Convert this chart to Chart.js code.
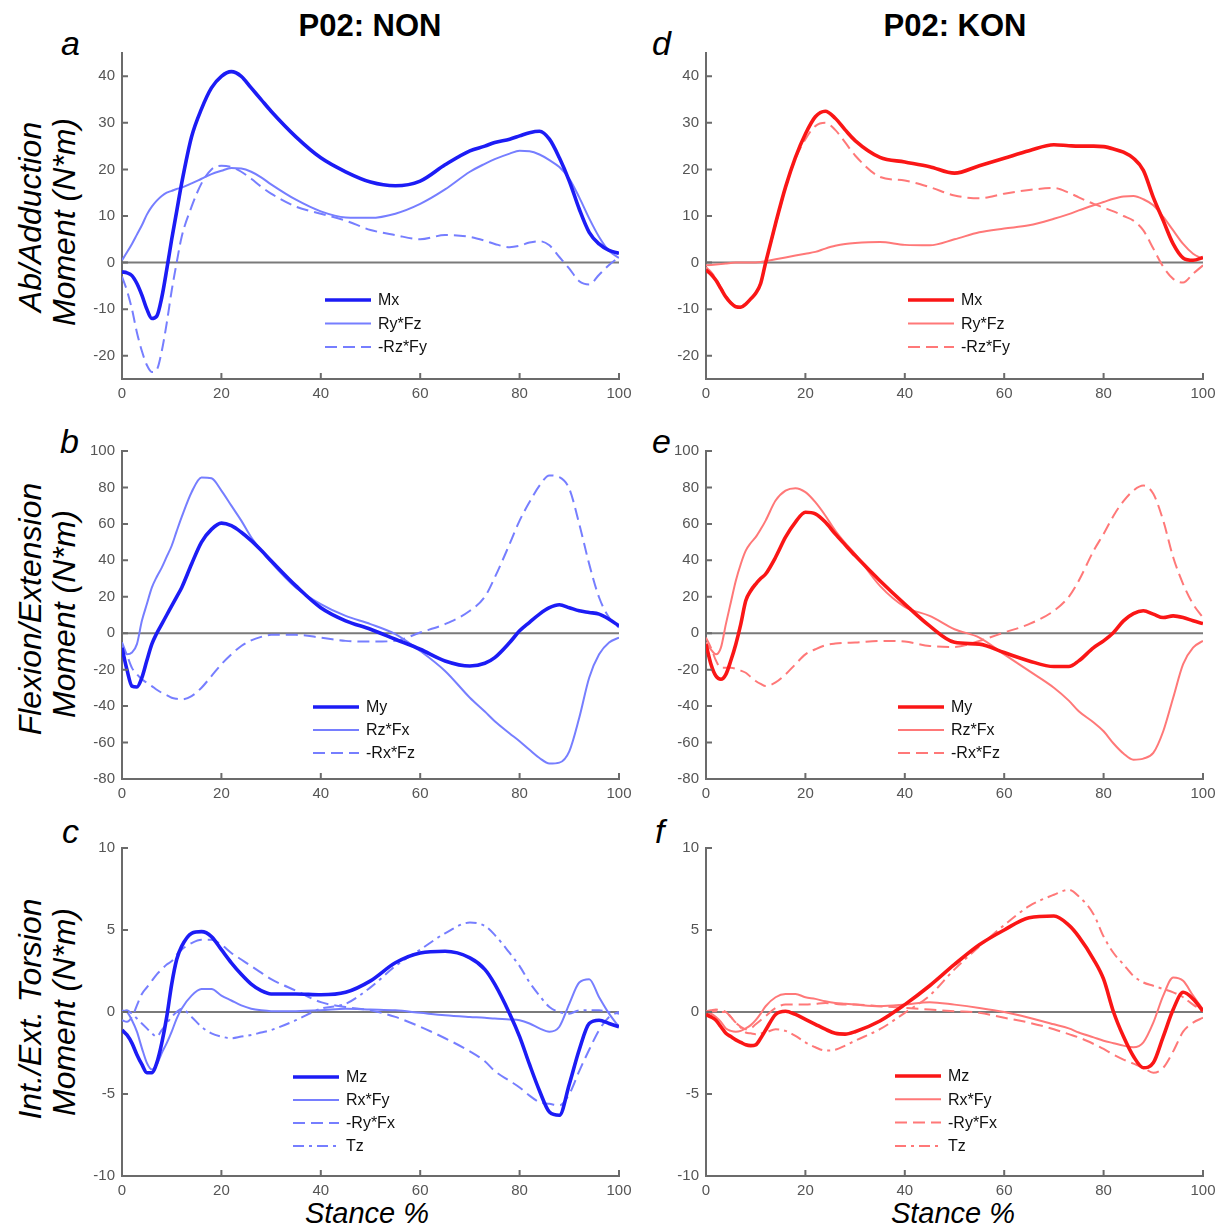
<!DOCTYPE html>
<html>
<head>
<meta charset="utf-8">
<script src="https://cdn.jsdelivr.net/npm/chart.js@4.4.1/dist/chart.umd.min.js"></script>
<style>
  html, body { margin: 0; padding: 0; background: #fff; }
  #page { position: relative; width: 1227px; height: 1232px; overflow: hidden;
          font-family: "Liberation Sans", Arial, sans-serif; color: #000; }
  canvas { position: absolute; }
  .title { position: absolute; font-weight: bold; font-size: 31px; white-space: nowrap;
           transform: translateX(-50%); line-height: 1; }
  .letter { position: absolute; font-style: italic; font-size: 34px; line-height: 1; }
  .ytitle { position: absolute; font-style: italic; font-size: 32px; white-space: nowrap; line-height: 1;
            transform: translate(-50%, -50%) rotate(-90deg); }
  .xtitle { position: absolute; font-style: italic; font-size: 29px; white-space: nowrap; line-height: 1;
            transform: translateX(-50%); }
</style>
</head>
<body>
<div id="page">
  <div class="title" style="left:370px; top:10px;">P02: NON</div>
  <div class="title" style="left:955px; top:10px;">P02: KON</div>

  <div class="letter" style="left:61px; top:26px;">a</div>
  <div class="letter" style="left:652px; top:26px;">d</div>
  <div class="letter" style="left:60px; top:424px;">b</div>
  <div class="letter" style="left:652px; top:424px;">e</div>
  <div class="letter" style="left:62px; top:814px;">c</div>
  <div class="letter" style="left:655px; top:814px;">f</div>

  <div class="ytitle" style="left:30px; top:217px;">Ab/Adduction</div>
  <div class="ytitle" style="left:64px; top:222px;">Moment (N*m)</div>
  <div class="ytitle" style="left:30px; top:609px;">Flexion/Extension</div>
  <div class="ytitle" style="left:64px; top:614px;">Moment (N*m)</div>
  <div class="ytitle" style="left:30px; top:1009px;">Int./Ext. Torsion</div>
  <div class="ytitle" style="left:64px; top:1012px;">Moment (N*m)</div>

  <div class="xtitle" style="left:367px; top:1199px;">Stance %</div>
  <div class="xtitle" style="left:953px; top:1199px;">Stance %</div>
</div>

<script>
// Stance phase sample points (% of stance) shared by every curve
const stance = [0,1,2,3,4,5,6,7,8,9,10,11,12,14,16,18,20,22,24,26,28,30,35,40,45,50,55,60,65,70,73,75,78,80,82,84,86,88,90,92,94,96,98,100];

// Ab/Adduction moment components, NON
const nonMx    = [-2,-2.2,-2.8,-4.5,-7,-10,-12,-11.5,-7.5,-1.5,5,11,17,27,33,37.5,40,41,40,37.5,35,32.5,27,22.5,19.5,17.3,16.5,17.5,21,24,25,25.8,26.5,27.2,27.9,28.2,26.5,22.5,17.5,11.5,6.5,4,2.6,2];
const nonRyFz  = [0.5,2.2,4,6,8,10.3,12,13.3,14.3,15,15.4,15.8,16.1,17,18,19,19.7,20.3,20.2,19.5,18.3,16.8,13.5,11,9.7,9.6,10.5,12.6,15.7,19.5,21.2,22.2,23.4,24,23.9,23.2,22,20.5,18,14,9.5,5.5,2.5,1];
const nonRzFy  = [-3,-6,-10,-15,-19,-22,-23.5,-23,-19,-13,-6,0,5.5,12,17,20,20.8,20.5,19.5,18,16.3,14.8,12,10.5,9,7,5.9,5,5.9,5.5,4.7,4,3.3,3.6,4.3,4.6,3.7,1.2,-1.3,-4,-4.7,-2.6,-0.5,1.2];

// Ab/Adduction moment components, KON
const konMx    = [-1.6,-2.5,-3.8,-5.6,-7.4,-8.7,-9.5,-9.6,-8.9,-7.8,-6.6,-4.5,0,8.4,16.2,22.6,27.6,31.3,32.5,31,28.5,26.2,22.6,21.6,20.6,19.2,20.8,22.4,24,25.3,25.1,25,25,24.9,24.4,23.7,22.4,19.8,14,9,4,1,0.5,1.1];
const konRyFz  = [-0.6,-0.5,-0.4,-0.3,-0.2,-0.1,0,0,0,0,0,0.1,0.3,0.7,1.1,1.5,1.9,2.3,3,3.6,4,4.2,4.4,3.8,3.7,5,6.5,7.3,8,9.4,10.4,11.2,12.3,13,13.7,14.2,14.3,13.6,12.3,9.8,6.9,4,1.9,0.8];
const konRzFy  = [-1,-2,-3.5,-5.3,-7,-8.5,-9.3,-9.4,-8.8,-7.7,-6.5,-4.3,0,8,16,22.3,26.5,29.3,30,28.5,25.8,23,18.4,17.6,16.2,14.4,13.8,14.8,15.6,16,15,14,12.6,11.8,11,10,9,6.9,3,-0.9,-3.5,-4.3,-2.4,-0.6];

// Flexion/Extension moment components, NON
const nonMy    = [-8,-20,-29,-29.5,-24.4,-15,-6,0,5,10,15,20,25,38,50,57,60.4,59,55.4,50.8,45.5,39.8,26,14,6.8,2.2,-3.3,-8.8,-15.2,-18,-16.5,-13.4,-5.1,1.3,6,10.5,14,15.6,14,12.3,11.4,10.5,7.7,4];
const nonRzFx  = [-7,-11.6,-10.6,-6,6.8,16,25,31,36,42,48,56,63.7,77.4,85.5,85,78.3,70,61.8,52.7,45.5,38.9,25,16,9.5,5,-0.5,-9.7,-20.7,-35.4,-43,-48.3,-55,-59.3,-64,-68.5,-71.5,-71,-64.8,-46.4,-24.4,-11.6,-5.1,-2.4];
const nonRxFz  = [-5,-12,-19,-22.5,-25.3,-27.2,-29,-31,-32.7,-34,-35.4,-36,-36.3,-34.5,-29.9,-23.5,-17,-11.6,-7,-3.9,-2,-0.9,-0.9,-2.4,-4.2,-4.6,-4.2,0.4,5,12.3,20,30.6,49,61.8,72,81,86.6,85.7,79.3,60,38,19.6,8.6,3.1];

// Flexion/Extension moment components, KON
const konMy    = [-6,-17,-23.5,-25.3,-22.6,-15,-6,5,17.8,23.3,27,30,32.5,41.7,52.7,61,66.4,65.5,61,54.5,48.5,42.6,28.8,16,4,-5,-6,-10.6,-15.2,-18.3,-18.3,-15.2,-7.9,-4.2,0.4,6.8,10.8,12.3,10.5,8.6,9.5,8.6,6.8,5.3];
const konRzFx  = [-5,-9,-11.6,-7.9,5,17,28.8,38,45.3,49.5,52.7,57,61.8,72.8,78.3,79.6,77.4,71.9,64.6,56.3,49.5,43.5,26,14.5,9.5,2.2,-2.4,-11.6,-20.7,-29.9,-37,-42.8,-49,-53.8,-60.5,-66,-69.4,-68.8,-65.7,-53.8,-35.4,-17,-7.9,-4.2];
const konRxFz  = [-2.4,-8,-15,-19,-19,-19,-19.5,-20.5,-21.7,-24,-26.2,-27.8,-29,-27,-22.6,-17,-11.6,-8.8,-6.6,-5.7,-5.3,-5.1,-4.2,-4.6,-7,-7.5,-4.2,0.4,5,12.3,20,28.8,45.3,54.5,64.5,72.5,78.3,81,76.5,61.8,41.7,27,16,8.6];

// Int./Ext. torsion moment components, NON
const nonMz    = [-1.1,-1.4,-1.9,-2.6,-3.2,-3.7,-3.7,-3.1,-1.9,-0.3,1.7,3.2,4,4.8,4.9,4.6,3.8,3,2.3,1.7,1.3,1.1,1.1,1.05,1.2,1.9,3,3.6,3.7,3.3,2.6,1.7,-0.1,-1.5,-3.2,-4.8,-6.1,-6.3,-4.4,-2.3,-0.7,-0.5,-0.7,-0.9];
const nonRxFy  = [0.1,0,-0.5,-1.2,-2.2,-3.1,-3.5,-3.2,-2.5,-1.9,-1.2,-0.4,0.2,1,1.4,1.4,1,0.7,0.4,0.2,0.1,0.05,0.05,0.1,0.2,0.15,0.1,-0.05,-0.2,-0.3,-0.35,-0.4,-0.45,-0.5,-0.7,-1,-1.2,-0.9,0.5,1.8,2,0.9,-0.1,-0.9];
const nonRyFx  = [-0.5,-0.6,-0.3,0.4,1.1,1.5,1.9,2.3,2.6,2.9,3.1,3.5,3.8,4.2,4.4,4.4,4.1,3.6,3.2,2.8,2.4,2,1.3,0.6,0.3,0.1,-0.3,-0.9,-1.6,-2.4,-3,-3.6,-4.2,-4.6,-5.1,-5.5,-5.6,-5.7,-5,-3.6,-2.3,-1.1,-0.3,0];
const nonTz    = [0,0.1,-0.1,-0.4,-0.7,-1,-1.3,-1.5,-1.1,-0.7,-0.3,0,0.2,-0.3,-0.9,-1.3,-1.5,-1.6,-1.5,-1.4,-1.25,-1.1,-0.5,0.2,0.5,1.5,2.8,3.8,4.8,5.45,5.25,4.7,3.6,2.8,1.8,1,0.3,0,-0.1,0.1,0.1,0.1,0,-0.1];

// Int./Ext. torsion moment components, KON
const konMz    = [-0.15,-0.3,-0.5,-0.9,-1.3,-1.5,-1.7,-1.85,-2,-2.05,-2,-1.6,-1.1,-0.15,0.05,-0.15,-0.45,-0.75,-1.05,-1.3,-1.35,-1.2,-0.55,0.45,1.6,2.9,4.1,5,5.75,5.85,5.3,4.6,3.2,2,0,-1.5,-2.7,-3.4,-3.1,-1.5,0.15,1.2,0.8,0.05];
const konRxFy  = [0,-0.1,-0.3,-0.6,-1,-1.15,-1.2,-1.15,-1,-0.8,-0.5,-0.1,0.35,0.9,1.1,1.1,0.9,0.8,0.65,0.55,0.5,0.45,0.35,0.45,0.6,0.45,0.25,0,-0.35,-0.75,-1,-1.25,-1.55,-1.75,-1.9,-2.05,-2.15,-1.85,-0.65,1,2.1,1.9,1,0.15];
const konRyFx  = [0.05,0.1,0.15,0.1,0,-0.3,-0.65,-0.9,-1.05,-1,-0.75,-0.5,-0.25,0.25,0.45,0.45,0.45,0.5,0.55,0.5,0.45,0.45,0.35,0.25,0.15,0.05,-0.05,-0.35,-0.65,-1.05,-1.35,-1.55,-1.95,-2.25,-2.6,-2.9,-3.15,-3.4,-3.7,-3.4,-2.4,-1.2,-0.65,-0.35];
const konTz    = [0,0.05,0.05,0,0,-0.3,-0.65,-0.95,-1.25,-1.3,-1.35,-1.3,-1.25,-1.05,-1.15,-1.45,-1.85,-2.15,-2.35,-2.3,-2.05,-1.75,-1.05,-0.05,1,2.6,4,5.3,6.45,7.15,7.45,7.05,5.95,4.6,3.6,2.9,2.2,1.8,1.6,1.4,1.2,0.9,0.45,0.05];

// Axis ticks
const xTickValues   = [0,20,40,60,80,100];
const abAdTicks     = [-20,-10,0,10,20,30,40];
const flexExtTicks  = [-80,-60,-40,-20,0,20,40,60,80,100];
const torsionTicks  = [-10,-5,0,5,10];

// Line styles
const BLUE_DARK  = 'rgb(28,28,245)';
const BLUE_LIGHT = 'rgb(118,126,255)';
const RED_DARK   = 'rgb(250,22,22)';
const RED_LIGHT  = 'rgb(255,120,120)';
const DASH = [12, 6];
const DASH_DOT = [11, 5, 3, 5];

function series(label, values, color, width, dash) {
  return {
    label,
    data: stance.map((s, i) => ({ x: s, y: values[i] })),
    borderColor: color,
    borderWidth: width,
    borderDash: dash || [],
    fill: false,
    pointRadius: 0,
    cubicInterpolationMode: 'monotone'
  };
}

// Zero reference line, inward tick marks and in-plot legend
const axisDecor = {
  id: 'axisDecor',
  beforeDatasetsDraw(chart) {
    const { ctx, chartArea: a, scales: { y } } = chart;
    const y0 = y.getPixelForValue(0);
    ctx.save();
    ctx.strokeStyle = '#7a7a7a';
    ctx.lineWidth = 2;
    ctx.beginPath();
    ctx.moveTo(a.left, y0);
    ctx.lineTo(a.right, y0);
    ctx.stroke();
    ctx.restore();
  },
  afterDraw(chart, args, opts) {
    const { ctx, chartArea: a, scales: { x, y } } = chart;
    ctx.save();
    ctx.strokeStyle = '#6b6b6b';
    ctx.lineWidth = 2;
    ctx.beginPath();
    y.ticks.forEach(t => {
      const py = y.getPixelForValue(t.value);
      ctx.moveTo(a.left, py);
      ctx.lineTo(a.left + 6, py);
    });
    x.ticks.forEach(t => {
      const px = x.getPixelForValue(t.value);
      ctx.moveTo(px, a.bottom);
      ctx.lineTo(px, a.bottom - 6);
    });
    ctx.stroke();

    // legend
    const lx = a.left + opts.left;
    let ly = a.top + opts.top;
    ctx.font = '16px "Liberation Sans", Arial, sans-serif';
    ctx.textBaseline = 'middle';
    ctx.textAlign = 'left';
    chart.data.datasets.forEach(ds => {
      ctx.strokeStyle = ds.borderColor;
      ctx.lineWidth = ds.borderWidth;
      ctx.setLineDash(ds.borderDash);
      ctx.beginPath();
      ctx.moveTo(lx, ly);
      ctx.lineTo(lx + 46, ly);
      ctx.stroke();
      ctx.setLineDash([]);
      ctx.fillStyle = '#111';
      ctx.fillText(ds.label, lx + 53, ly + 1);
      ly += opts.gap;
    });
    ctx.restore();
  }
};

const TICK_FONT = { family: '"Liberation Sans Narrow", "Liberation Sans", Arial, sans-serif', size: 15 };
const AXIS_COLOR = '#6b6b6b';

// keep the plot box exactly where the layout puts it
function noScalePadding(s) {
  s.paddingTop = 0; s.paddingBottom = 0; s.paddingLeft = 0; s.paddingRight = 0;
}

function makePanel(cfg) {
  const page = document.getElementById('page');
  const yAxisW = 55, padTop = 10, padRight = 15, xAxisH = 30;
  const w = yAxisW + cfg.plotW + padRight;
  const h = padTop + cfg.plotH + xAxisH;
  const canvas = document.createElement('canvas');
  canvas.width = w; canvas.height = h;
  canvas.style.width = w + 'px'; canvas.style.height = h + 'px';
  canvas.style.left = (cfg.plotL - yAxisW) + 'px';
  canvas.style.top = (cfg.plotT - padTop) + 'px';
  page.appendChild(canvas);

  new Chart(canvas, {
    type: 'line',
    data: { datasets: cfg.datasets },
    options: {
      responsive: false,
      animation: false,
      devicePixelRatio: 1,
      layout: { padding: { top: padTop, right: padRight, left: 0, bottom: 0 } },
      plugins: {
        legend: { display: false },
        tooltip: { enabled: false },
        axisDecor: cfg.legend
      },
      scales: {
        x: {
          type: 'linear', min: 0, max: 100,
          afterBuildTicks: s => { s.ticks = xTickValues.map(v => ({ value: v })); },
          afterFit: s => { s.height = xAxisH; noScalePadding(s); },
          grid: { display: false, drawTicks: false },
          border: { display: true, color: AXIS_COLOR, width: 2 },
          ticks: { color: '#555', font: TICK_FONT, padding: 6, maxRotation: 0, autoSkip: false }
        },
        y: {
          type: 'linear', min: cfg.yMin, max: cfg.yMax,
          afterBuildTicks: s => { s.ticks = cfg.yTicks.map(v => ({ value: v })); },
          afterFit: s => { s.width = yAxisW; noScalePadding(s); },
          grid: { display: false, drawTicks: false },
          border: { display: true, color: AXIS_COLOR, width: 2 },
          ticks: { color: '#555', font: TICK_FONT, padding: 7, autoSkip: false }
        }
      }
    },
    plugins: [axisDecor]
  });
}

const LEFT_L = 122, RIGHT_L = 706, PLOT_W = 497;

// a: Ab/Adduction, NON
makePanel({
  plotL: LEFT_L, plotT: 53, plotW: PLOT_W, plotH: 326, yMin: -25, yMax: 45, yTicks: abAdTicks,
  legend: { left: 203, top: 247, gap: 23.5 },
  datasets: [
    series('Mx', nonMx, BLUE_DARK, 3.6),
    series('Ry*Fz', nonRyFz, BLUE_LIGHT, 2),
    series('-Rz*Fy', nonRzFy, BLUE_LIGHT, 2, DASH)
  ]
});
// d: Ab/Adduction, KON
makePanel({
  plotL: RIGHT_L, plotT: 53, plotW: PLOT_W, plotH: 326, yMin: -25, yMax: 45, yTicks: abAdTicks,
  legend: { left: 202, top: 247, gap: 23.5 },
  datasets: [
    series('Mx', konMx, RED_DARK, 3.6),
    series('Ry*Fz', konRyFz, RED_LIGHT, 2),
    series('-Rz*Fy', konRzFy, RED_LIGHT, 2, DASH)
  ]
});
// b: Flexion/Extension, NON
makePanel({
  plotL: LEFT_L, plotT: 451, plotW: PLOT_W, plotH: 328, yMin: -80, yMax: 100, yTicks: flexExtTicks,
  legend: { left: 191, top: 256, gap: 23 },
  datasets: [
    series('My', nonMy, BLUE_DARK, 3.6),
    series('Rz*Fx', nonRzFx, BLUE_LIGHT, 2),
    series('-Rx*Fz', nonRxFz, BLUE_LIGHT, 2, DASH)
  ]
});
// e: Flexion/Extension, KON
makePanel({
  plotL: RIGHT_L, plotT: 451, plotW: PLOT_W, plotH: 328, yMin: -80, yMax: 100, yTicks: flexExtTicks,
  legend: { left: 192, top: 256, gap: 23 },
  datasets: [
    series('My', konMy, RED_DARK, 3.6),
    series('Rz*Fx', konRzFx, RED_LIGHT, 2),
    series('-Rx*Fz', konRxFz, RED_LIGHT, 2, DASH)
  ]
});
// c: Int./Ext. torsion, NON
makePanel({
  plotL: LEFT_L, plotT: 848, plotW: PLOT_W, plotH: 328, yMin: -10, yMax: 10, yTicks: torsionTicks,
  legend: { left: 171, top: 229, gap: 23 },
  datasets: [
    series('Mz', nonMz, BLUE_DARK, 3.6),
    series('Rx*Fy', nonRxFy, BLUE_LIGHT, 2),
    series('-Ry*Fx', nonRyFx, BLUE_LIGHT, 2, DASH),
    series('Tz', nonTz, BLUE_LIGHT, 2, DASH_DOT)
  ]
});
// f: Int./Ext. torsion, KON
makePanel({
  plotL: RIGHT_L, plotT: 848, plotW: PLOT_W, plotH: 328, yMin: -10, yMax: 10, yTicks: torsionTicks,
  legend: { left: 189, top: 228, gap: 23.3 },
  datasets: [
    series('Mz', konMz, RED_DARK, 3.6),
    series('Rx*Fy', konRxFy, RED_LIGHT, 2),
    series('-Ry*Fx', konRyFx, RED_LIGHT, 2, DASH),
    series('Tz', konTz, RED_LIGHT, 2, DASH_DOT)
  ]
});
</script>
</body>
</html>
